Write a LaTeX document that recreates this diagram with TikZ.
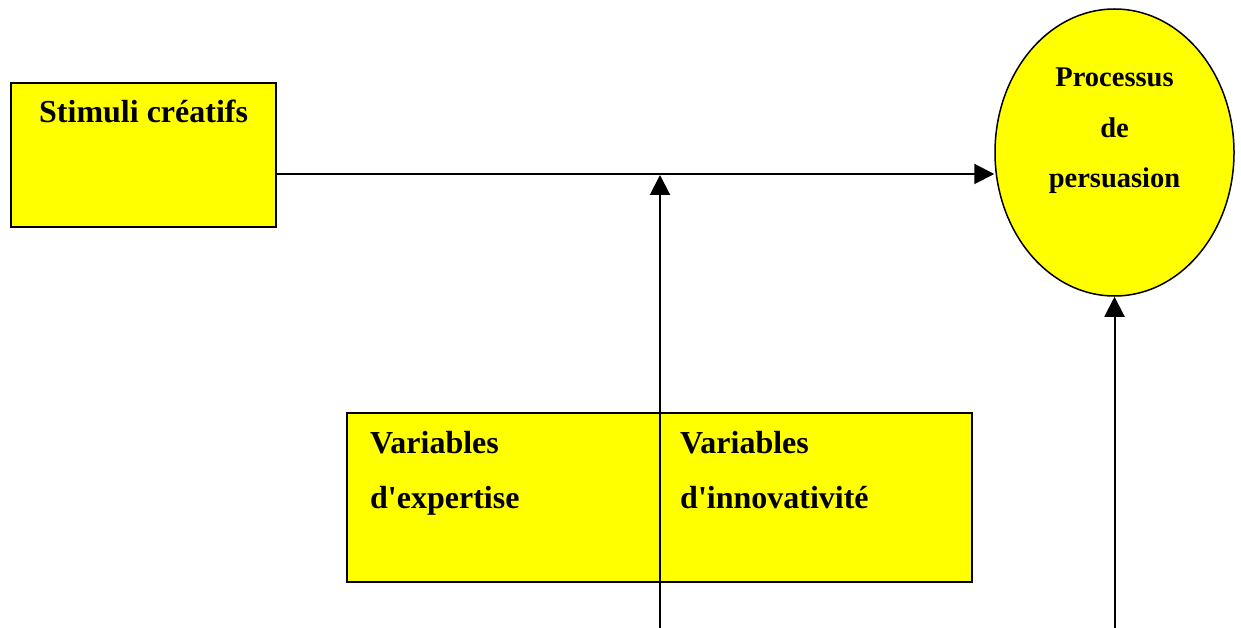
\documentclass[tikz,border=0pt]{standalone}
\usepackage{fontspec}
\setmainfont{Liberation Serif}
\usetikzlibrary{arrows.meta,positioning,shapes.geometric}
\definecolor{pmyellow}{HTML}{FFFF00}
\definecolor{pmink}{HTML}{000000}
\tikzset{
  pm box/.style={draw=pmink, line width=2pt, fill=pmyellow, inner sep=0pt, anchor=north west},
  pm ellipse/.style={draw=pmink, line width=1.5pt, fill=pmyellow, ellipse, inner sep=0pt,
    minimum width=239pt, minimum height=287pt},
  pm label/.style={font=\bfseries\fontsize{32}{38}\selectfont, text=pmink, inner sep=0pt, anchor=base west},
  pm small/.style={font=\bfseries\fontsize{28.5}{34}\selectfont, text=pmink, inner sep=0pt, anchor=base},
  pm arrow/.style={-{Triangle[length=20pt,width=20pt]}, line width=2pt, draw=pmink}
}

\begin{document}
\begin{tikzpicture}[x=1pt, y=1pt]
  \useasboundingbox[fill=white] (0,0) rectangle (1241,-628);
  % boxes
  \node[pm box, minimum width=265pt, minimum height=144pt] (stim) at (10,-82) {};
  \node[pm label] (stimtxt) at (39,-123) {Stimuli créatifs};
  \node[pm box, minimum width=625pt, minimum height=169pt] (vars) at (346,-412) {};
  \node[pm label] (exp1) at (370,-453) {Variables};
  \node[pm label] (exp2) at (370,-508) {d\textquotesingle expertise};
  \node[pm label] (inn1) at (680,-453) {Variables};
  \node[pm label] (inn2) at (680,-508) {d\textquotesingle innovativité};
  % persuasion
  \node[pm ellipse] (pers) at (1114.5,-152.5) {};
  \node[pm small] (pers1) at (1114.5,-87) {Processus};
  \node[pm small] (pers2) at (1114.5,-138) {de};
  \node[pm small] (pers3) at (1114.5,-188) {persuasion};
  % connectors
  \coordinate (hin) at ([yshift=-19pt]stim.east);
  \coordinate (vbot) at (660,-628);
  \coordinate (rbot) at (pers.south |- vbot);
  \draw[pm arrow] (hin) -- (hin -| pers.west);
  \draw[pm arrow, shorten >=1pt] (vbot) -- (vbot |- hin);
  \draw[pm arrow] (rbot) -- (pers.south);
\end{tikzpicture}
\end{document}
